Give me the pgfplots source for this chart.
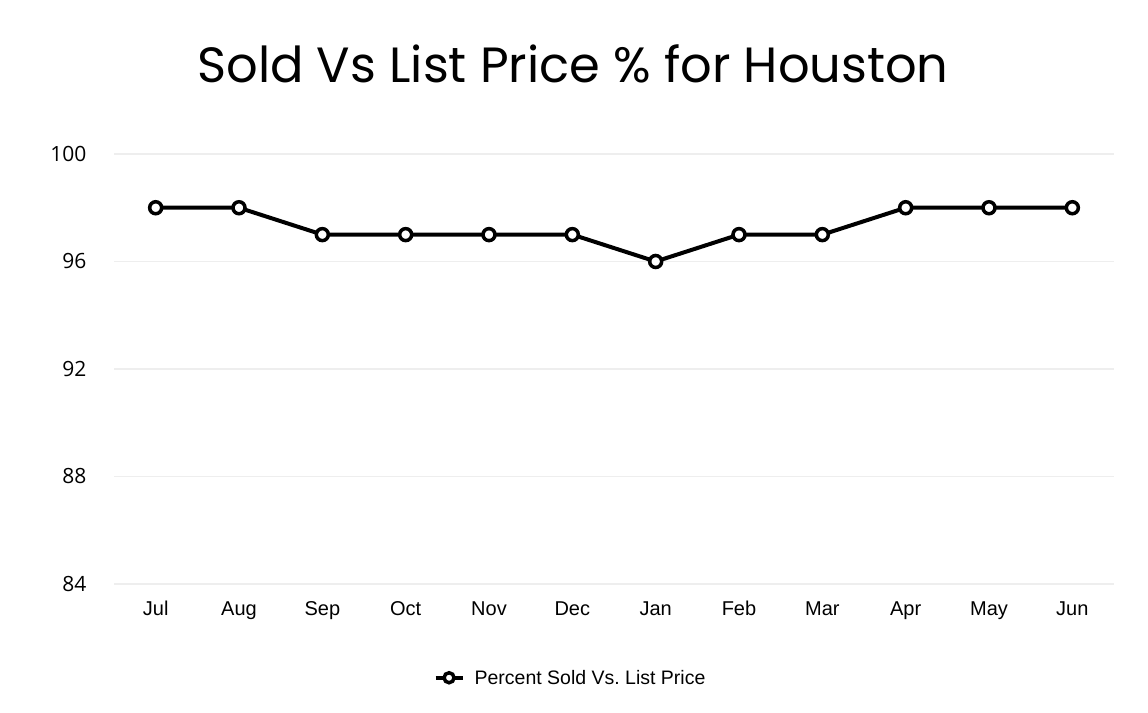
\documentclass[border=0pt]{standalone}
\usepackage{fontspec}
\setmainfont{Liberation Sans}
\newfontfamily\titlefont{Poppins}
\newfontfamily\yfont{Open Sans}
\usepackage{pgfplots}
\pgfplotsset{compat=1.18}
\definecolor{gridgray}{RGB}{238,238,238}
\frenchspacing

\begin{document}
\begin{tikzpicture}
\path[use as bounding box] (0,0) rectangle (1148pt,712pt);
\begin{axis}[
  at={(114pt,128pt)}, anchor=south west,
  scale only axis,
  width=1000pt, height=430pt,
  xmin=-0.5, xmax=11.5,
  ymin=84, ymax=100,
  axis line style={draw=none},
  xtick=data,
  xticklabels={Jul,Aug,Sep,Oct,Nov,Dec,Jan,Feb,Mar,Apr,May,Jun},
  ytick={84,88,92,96,100},
  yticklabel style={font=\yfont\fontsize{21}{21}\selectfont, anchor=east, xshift=-24pt},
  xticklabel style={font=\fontsize{20}{20}\selectfont, anchor=base, yshift=-31pt},
  /pgf/number format/assume math mode=true,
  major tick length=0pt,
  ymajorgrids,
  grid style={gridgray, line width=1.2pt},
  clip=false,
  legend style={at={(0.4565,-0.218)}, anchor=center, draw=none,
    font=\fontsize{19.5}{19.5}\selectfont},
  legend image code/.code={
    \draw[line width=4pt] (0pt,0pt) -- (27pt,0pt);
    \draw[line width=3.5pt, fill=white] (13.5pt,0pt) circle (5pt);
    \path (35pt,0pt);
  },
]
\addplot[black, line width=4pt, mark=*, mark size=6pt,
  mark options={fill=white, line width=3.5pt}]
coordinates {
(0,98) (1,98) (2,97) (3,97) (4,97) (5,97)
(6,96) (7,97) (8,97) (9,98) (10,98) (11,98)
};
\addlegendentry{Percent Sold Vs. List Price}
\end{axis}
\node at (573pt,648pt) {\titlefont\fontsize{49.5}{49.5}\selectfont Sold Vs List Price \% for Houston};
\end{tikzpicture}
\end{document}
